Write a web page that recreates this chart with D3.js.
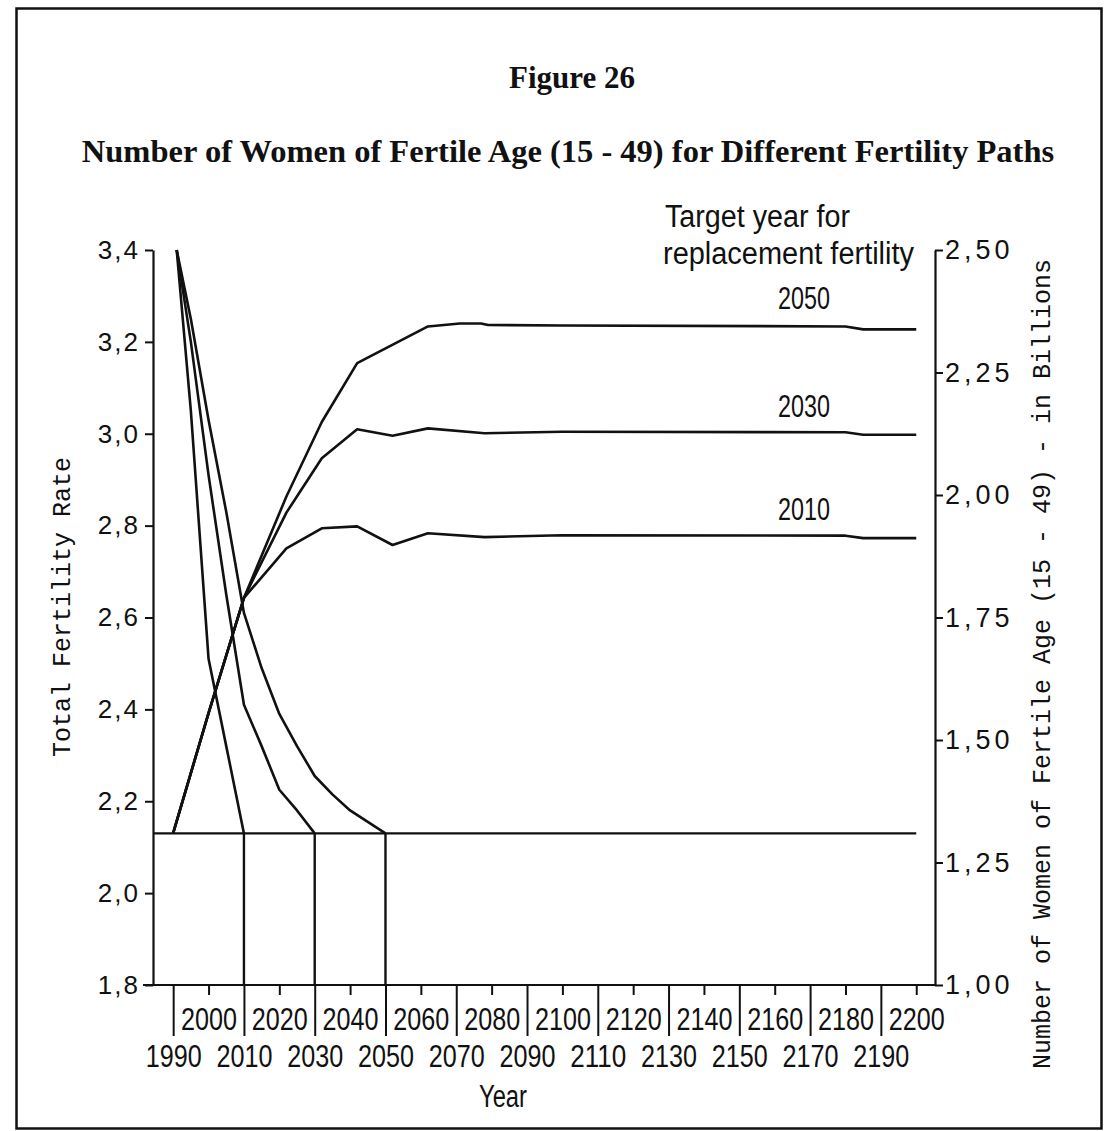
<!DOCTYPE html>
<html>
<head>
<meta charset="utf-8">
<script src="https://cdn.jsdelivr.net/npm/d3@7"></script>
<style>
  html, body { margin: 0; padding: 0; background: #fff; }
  svg { display: block; }
</style>
</head>
<body>
<div id="chart"></div>
<script>
// ---------------- DATA ----------------
// Total fertility rate paths (left axis), by target year for replacement fertility
const tfrYears2010 = [1991, 1995, 2000, 2005, 2010];
const tfr2010      = [3.40, 3.05, 2.51, 2.32, 2.13];
const tfrYears2030 = [1991, 1995, 2000, 2005, 2010, 2015, 2020, 2025, 2030];
const tfr2030      = [3.40, 3.20, 2.91, 2.65, 2.41, 2.32, 2.225, 2.18, 2.13];
const tfrYears2050 = [1991, 1995, 2000, 2005, 2010, 2015, 2020, 2025, 2030, 2035, 2040, 2045, 2050];
const tfr2050      = [3.40, 3.25, 3.03, 2.83, 2.61, 2.49, 2.39, 2.32, 2.255, 2.215, 2.18, 2.155, 2.13];
const replacementTFR = 2.13;
const replacementYears = [1984.3, 2200];
const dropYears = [2010, 2030, 2050];

// Number of women of fertile age, billions (right axis)
const womenYears2010 = [1990, 2000, 2010, 2022, 2032, 2042, 2052, 2062, 2078, 2100, 2180, 2185, 2200];
const women2010      = [1.31, 1.555, 1.79, 1.891, 1.932, 1.936, 1.898, 1.922, 1.914, 1.918, 1.917, 1.912, 1.912];
const womenYears2030 = [1990, 2000, 2010, 2022, 2032, 2042, 2052, 2062, 2078, 2100, 2180, 2185, 2200];
const women2030      = [1.31, 1.555, 1.79, 1.964, 2.075, 2.134, 2.121, 2.136, 2.126, 2.129, 2.128, 2.123, 2.123];
const womenYears2050 = [1990, 2000, 2010, 2022, 2032, 2042, 2062, 2071, 2077, 2079, 2100, 2180, 2185, 2200];
const women2050      = [1.31, 1.555, 1.79, 1.997, 2.149, 2.269, 2.344, 2.350, 2.350, 2.347, 2.346, 2.344, 2.338, 2.338];

const seriesLabels = ["2050", "2030", "2010"];
const seriesLabelValues = [2.380, 2.160, 1.950];   // right-axis level where the label sits

// Tick labels
const xLongTicks  = [1990, 2010, 2030, 2050, 2070, 2090, 2110, 2130, 2150, 2170, 2190];
const xShortTicks = [2000, 2020, 2040, 2060, 2080, 2100, 2120, 2140, 2160, 2180, 2200];
const leftTicks   = [1.8, 2.0, 2.2, 2.4, 2.6, 2.8, 3.0, 3.2, 3.4];
const rightTicks  = [1.00, 1.25, 1.50, 1.75, 2.00, 2.25, 2.50];

const figureTitle = "Figure 26";
const chartTitle  = "Number of Women of Fertile Age (15 - 49) for Different Fertility Paths";
const leftTitle   = "Total Fertility Rate";
const rightTitle  = "Number of Women of Fertile Age (15 - 49) - in Billions";
const xTitle      = "Year";
const annotation  = ["Target year for", "replacement fertility"];

// ---------------- LAYOUT ----------------
const W = 1107, H = 1131;
const plot = { left: 153, right: 935, top: 250, bottom: 985 };

const svg = d3.select("#chart").append("svg").attr("width", W).attr("height", H);
svg.append("rect").attr("width", W).attr("height", H).attr("fill", "#fff");

const ink = "#111";
const condensed = "'Liberation Sans Narrow', 'Liberation Sans', Arial, sans-serif";
const mono = "'Liberation Mono', 'DejaVu Sans Mono', monospace";
const serif = "'Liberation Serif', 'Times New Roman', serif";

// frame
svg.append("rect").attr("x", 16.5).attr("y", 8.5).attr("width", 1085).attr("height", 1120)
  .attr("fill", "none").attr("stroke", ink).attr("stroke-width", 2.5);

const x = d3.scaleLinear().domain([1984.3, 2205.3]).range([plot.left, plot.right]);
const yL = d3.scaleLinear().domain([1.8, 3.4]).range([plot.bottom, plot.top]);
const yR = d3.scaleLinear().domain([1.0, 2.5]).range([plot.bottom, plot.top]);

const loc = d3.formatLocale({ decimal: ",", thousands: ".", grouping: [3], currency: ["", ""] });
const f1 = loc.format(".1f"), f2 = loc.format(".2f");

// condensed text helper: squeeze the glyphs to a given width
function squeeze(sel, w) {
  sel.attr("textLength", w).attr("lengthAdjust", "spacingAndGlyphs");
}

// Titles
svg.append("text").attr("x", 572).attr("y", 88).attr("text-anchor", "middle")
  .attr("font-family", serif).attr("font-weight", "bold")
  .attr("font-size", 31).attr("fill", ink).text(figureTitle);
svg.append("text").attr("x", 568).attr("y", 162).attr("text-anchor", "middle")
  .attr("font-family", serif).attr("font-weight", "bold")
  .attr("font-size", 32.5).attr("fill", ink).text(chartTitle);

// Left axis
const gL = svg.append("g").attr("transform", `translate(${plot.left},0)`)
  .call(d3.axisLeft(yL).tickValues(leftTicks).tickFormat(f1).tickSize(8).tickSizeOuter(0));
gL.select(".domain").attr("stroke", ink).attr("stroke-width", 2.2);
gL.selectAll(".tick line").attr("stroke", ink).attr("stroke-width", 2);
gL.selectAll(".tick text").attr("x", -13).attr("font-family", "'Liberation Sans', Arial, sans-serif")
  .attr("font-size", 26).attr("letter-spacing", 2).attr("fill", ink);

// Right axis
const gR = svg.append("g").attr("transform", `translate(${plot.right},0)`)
  .call(d3.axisRight(yR).tickValues(rightTicks).tickFormat(f2).tickSize(8).tickSizeOuter(0));
gR.select(".domain").attr("stroke", ink).attr("stroke-width", 2.2);
gR.selectAll(".tick line").attr("stroke", ink).attr("stroke-width", 2);
gR.selectAll(".tick text").attr("x", 10).attr("font-family", "'Liberation Sans', Arial, sans-serif")
  .attr("font-size", 27).attr("letter-spacing", 4).attr("fill", ink);

// X axis line
svg.append("line").attr("x1", plot.left - 10).attr("x2", plot.right).attr("y1", plot.bottom).attr("y2", plot.bottom)
  .attr("stroke", ink).attr("stroke-width", 2.2);

// long ticks + bottom labels
const gXL = svg.append("g").attr("transform", `translate(0,${plot.bottom})`)
  .call(d3.axisBottom(x).tickValues(xLongTicks).tickFormat(d3.format("d")).tickSize(51).tickSizeOuter(0));
gXL.select(".domain").remove();
gXL.selectAll(".tick line").attr("stroke", ink).attr("stroke-width", 2);
gXL.selectAll(".tick text").attr("y", 82).attr("dy", 0).attr("font-family", condensed)
  .attr("font-size", 31).attr("fill", ink).call(squeeze, 56);

// short ticks + upper labels
const gXS = svg.append("g").attr("transform", `translate(0,${plot.bottom})`)
  .call(d3.axisBottom(x).tickValues(xShortTicks).tickFormat(d3.format("d")).tickSize(10).tickSizeOuter(0));
gXS.select(".domain").remove();
gXS.selectAll(".tick line").attr("stroke", ink).attr("stroke-width", 2);
gXS.selectAll(".tick text").attr("y", 45).attr("dy", 0).attr("font-family", condensed)
  .attr("font-size", 31).attr("fill", ink).call(squeeze, 56);

// Axis titles
svg.append("text").attr("transform", `translate(70,607) rotate(-90)`).attr("text-anchor", "middle")
  .attr("font-family", mono).attr("font-size", 25).attr("fill", ink).text(leftTitle);
svg.append("text").attr("transform", `translate(1050,664) rotate(-90)`).attr("text-anchor", "middle")
  .attr("font-family", mono).attr("font-size", 25).attr("fill", ink).text(rightTitle);
svg.append("text").attr("x", 503).attr("y", 1107).attr("text-anchor", "middle")
  .attr("font-family", condensed).attr("font-size", 31).attr("fill", ink).text(xTitle).call(squeeze, 48);

// Replacement level line and drop lines
svg.append("line").attr("x1", x(replacementYears[0])).attr("x2", x(replacementYears[1]))
  .attr("y1", yL(replacementTFR)).attr("y2", yL(replacementTFR)).attr("stroke", ink).attr("stroke-width", 2.4);
svg.selectAll("line.drop").data(dropYears).join("line").attr("class", "drop")
  .attr("x1", d => x(d)).attr("x2", d => x(d)).attr("y1", yL(replacementTFR)).attr("y2", plot.bottom)
  .attr("stroke", ink).attr("stroke-width", 2.4);

// Lines
const lineL = d3.line().x(d => x(d[0])).y(d => yL(d[1]));
const lineR = d3.line().x(d => x(d[0])).y(d => yR(d[1]));
const zip = (a, b) => a.map((v, i) => [v, b[i]]);

[[tfrYears2010, tfr2010], [tfrYears2030, tfr2030], [tfrYears2050, tfr2050]].forEach(([ys, vs]) => {
  svg.append("path").attr("d", lineL(zip(ys, vs))).attr("fill", "none")
    .attr("stroke", ink).attr("stroke-width", 2.6).attr("stroke-linejoin", "round");
});
[[womenYears2010, women2010], [womenYears2030, women2030], [womenYears2050, women2050]].forEach(([ys, vs]) => {
  svg.append("path").attr("d", lineR(zip(ys, vs))).attr("fill", "none")
    .attr("stroke", ink).attr("stroke-width", 2.6).attr("stroke-linejoin", "round");
});

// Annotations
svg.append("text").attr("x", 665).attr("y", 227).attr("font-family", condensed)
  .attr("font-size", 31).attr("fill", ink).text(annotation[0]).call(squeeze, 185);
svg.append("text").attr("x", 663).attr("y", 264).attr("font-family", condensed)
  .attr("font-size", 31).attr("fill", ink).text(annotation[1]).call(squeeze, 251);
svg.selectAll("text.slabel").data(seriesLabels).join("text").attr("class", "slabel")
  .attr("x", 778).attr("y", (d, i) => yR(seriesLabelValues[i]))
  .attr("font-family", condensed).attr("font-size", 31).attr("fill", ink).text(d => d).call(squeeze, 52);
</script>
</body>
</html>
